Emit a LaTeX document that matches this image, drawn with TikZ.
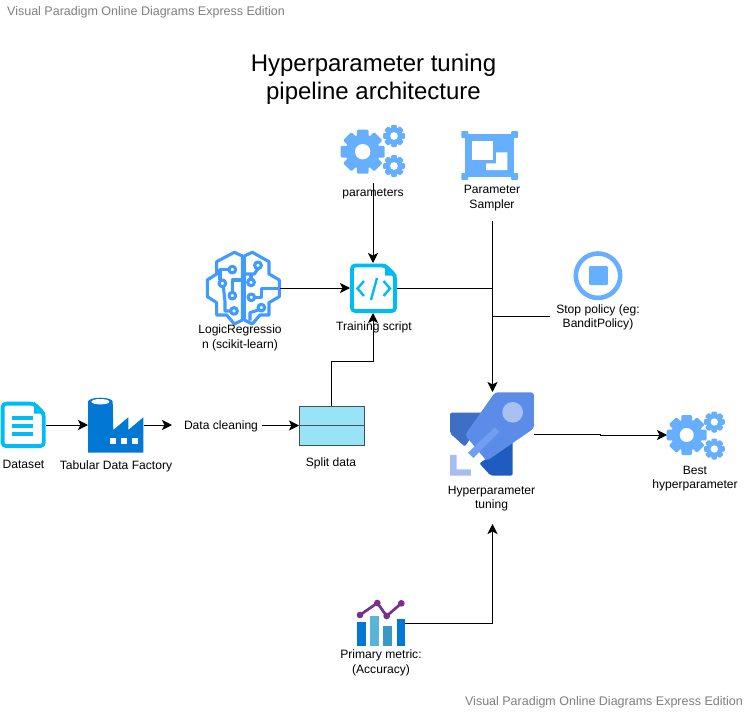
\documentclass[tikz,border=0pt]{standalone}
\usepackage{fontspec}
\setmainfont{Liberation Sans}
\usetikzlibrary{arrows.meta}
\definecolor{iconblue}{HTML}{66AFFF}
\definecolor{cyanicon}{HTML}{00BCF2}
\definecolor{brainblue}{HTML}{3F9BFF}
\definecolor{azure}{HTML}{0078D4}
\definecolor{splitfill}{HTML}{99E3F7}
\definecolor{wmark}{HTML}{7F7F7F}
\tikzset{
  lbl/.style={align=center,inner sep=0pt,font=\fontsize{12.1}{14.5}\selectfont},
  conn/.style={black,line width=0.9pt},
  arr/.style={conn,-{Stealth[length=10pt,width=10pt,inset=2.5pt]}},
  wm/.style={inner sep=0pt,text=wmark,font=\fontsize{12.5}{14}\selectfont},
}
\newcommand{\gearicon}[3]{%
  \begin{scope}[shift={(#1,#2)},scale=#3]
    \fill[iconblue] (0,0) circle (0.78);
    \foreach \a in {0,45,...,315}{
      \fill[iconblue,rotate=\a,rounded corners=1.2pt] (-0.27,0) rectangle (0.27,-1);
    }
    \fill[white] (0,0) circle (0.35);
  \end{scope}}
\begin{document}
\begin{tikzpicture}[x=1pt,y=-1pt]
\useasboundingbox (0,0) rectangle (748,712);
\fill[white] (0,0) rectangle (748,712);

% watermarks and title
\node[wm,anchor=west] (wmtop) at (7,12.5) {Visual Paradigm Online Diagrams Express Edition};
\node[wm,anchor=east] (wmbot) at (743,702.5) {Visual Paradigm Online Diagrams Express Edition};
\node[align=center,inner sep=0pt,font=\fontsize{24}{28}\selectfont] (title) at (373.5,79.5) {Hyperparameter tuning\\pipeline architecture};

% parameters gears
\gearicon{362.7}{151.7}{22}
\gearicon{394}{136}{11}
\gearicon{394}{166}{11}

% parameter sampler
\fill[iconblue] (465,134) rectangle (514,177);
\foreach \hx/\hy in {461.3/131,511/131,461.3/173,511/173}{
  \fill[iconblue,rounded corners=1pt] (\hx,\hy) rectangle ++(7,7);
}
\fill[white] (472,141) rectangle (493,159.5);
\fill[white,rounded corners=0.5pt] (496,152.3) -- (507.3,152.3) -- (507.3,170) -- (486,170) -- (486,163.3) -- (496,163.3) -- cycle;

% stop policy
\draw[iconblue,line width=4.6pt] (598,275.7) circle (22.2);
\fill[iconblue,rounded corners=1pt] (589,266.2) rectangle (607.8,285);

% brain
\begin{scope}[shift={(190,120)},x=0.3333pt,y=-0.3333pt,brainblue,line width=3.1pt,line join=round]
  \draw (157,408) -- (133,397) -- (80,425) -- (80,462) -- (52,480) -- (52,530) -- (80,548) -- (80,585) -- (110,585) -- (133,612) -- (157,600) -- cycle;
  \draw (163,408) -- (187,397) -- (237,425) -- (237,462) -- (268,480) -- (268,530) -- (237,548) -- (237,585) -- (210,585) -- (187,612) -- (163,600) -- cycle;
  \foreach \cx/\cy in {127/449,97/490,127/527,132/573,204/436,183/487,184/532,214/563}{
    \draw (\cx,\cy) circle (10);
  }
  \draw (117,449) -- (90,449) -- (90,480);
  \draw (157,480) -- (127,480) -- (127,517);
  \draw (100,500) -- (105,545) -- (105,573) -- (122,573);
  \draw (163,462) -- (193,462) -- (204,446);
  \draw (183,462) -- (183,477);
  \draw (194,532) -- (215,532) -- (215,505) -- (268,505);
  \draw (205,570) -- (180,578) -- (180,602);
\end{scope}

% training script
\draw[cyanicon,line width=3.8pt,rounded corners=3.5pt] (351.9,265.4) -- (385,265.4) -- (395.1,275.5) -- (395.1,311.1) -- (351.9,311.1) -- cycle;
\fill[cyanicon] (385,263.5) -- (397,275.5) -- (385,275.5) -- cycle;
\draw[cyanicon,line width=2.4pt] (364,281) -- (357.5,288.5) -- (364,296);
\draw[cyanicon,line width=2.4pt] (383.5,281) -- (390,288.5) -- (383.5,296);
\draw[cyanicon,line width=2.4pt] (377,278) -- (371,300);

% dataset
\draw[cyanicon,line width=3.8pt,rounded corners=3.5pt] (2.6,403.6) -- (34,403.6) -- (43.8,413.5) -- (43.8,446.1) -- (2.6,446.1) -- cycle;
\fill[cyanicon] (34,401.7) -- (45.7,413.5) -- (34,413.5) -- cycle;
\foreach \ly in {418,425.7,433.7}{
  \fill[cyanicon] (12,\ly-1.8) rectangle (33,\ly+1.8);
}

% factory
\fill[azure] (88,401.7) -- (88,452.7) -- (143.3,452.7) -- (143.3,417.3) -- (128.3,430) -- (128.3,417.3) -- (113.3,430) -- (112.7,401.7) arc (0:-180:12.35 and 4) -- cycle;
\fill[white] (100.4,401.7) ellipse (9 and 2.7);
\foreach \wx in {110,121,132}{
  \fill[white] (\wx,437.7) rectangle ++(6,6);
}

% split data
\node[draw=black!75!cyan,fill=splitfill,line width=0.8pt,minimum width=65pt,minimum height=39pt,inner sep=0pt,outer sep=0pt] (split) at (331.5,425.5) {};
\draw[black!75!cyan,line width=0.8pt] (split.west) -- (split.east);

% rocket
\begin{scope}[shift={(440,380)},x=0.3333pt,y=-0.3333pt]
  \fill[fill={rgb,255:red,63;green,111;blue,196},rounded corners=2pt] (30,98) -- (140,98) -- (75,200) -- (30,160) -- cycle;
  \fill[fill={rgb,255:red,31;green,92;blue,192},rounded corners=2pt] (118,250) -- (218,185) -- (218,287) -- (152,287) -- cycle;
  \fill[white] (68,205) -- (125,240) -- (100,252) -- (65,225) -- cycle;
  \fill[fill={rgb,255:red,91;green,141;blue,232},rounded corners=3pt] (75,165) -- (165,37) -- (282,37) -- (282,145) -- (140,243) -- cycle;
  \fill[fill={rgb,255:red,169;green,193;blue,240}] (218,97) circle (31);
  \fill[fill={rgb,255:red,112;green,158;blue,240}] (84,218) -- (165,142) -- (178,155) -- (100,234) -- cycle;
  \fill[fill={rgb,255:red,165;green,189;blue,243}] (30,225) -- (50,225) -- (50,268) -- (93,268) -- (93,287) -- (30,287) -- cycle;
\end{scope}

% best hyperparameter gears
\gearicon{686.7}{435}{20}
\gearicon{714.3}{422}{10.5}
\gearicon{714.3}{449}{10.5}

% metric chart
\begin{scope}[shift={(340,590)},x=0.3333pt,y=-0.3333pt]
  \fill[azure] (51,96) rectangle (77,167);
  \fill[fill={rgb,255:red,89;green,180;blue,217}] (90,77) rectangle (116,167);
  \fill[fill={rgb,255:red,57;green,153;blue,198}] (130,108) rectangle (156,167);
  \fill[azure] (170,86) rectangle (195,167);
  \draw[draw={rgb,255:red,122;green,47;blue,143},line width=2.7pt] (60,75) -- (112,39) -- (140,78) -- (184,40);
  \foreach \px/\py in {60/75,112/39,140/78,184/40}{
    \fill[fill={rgb,255:red,122;green,47;blue,143}] (\px,\py) circle (10);
  }
\end{scope}

% anchors for connectors
\coordinate (paramsOut) at (373,183);
\coordinate (samplerOut) at (492.5,221);
\coordinate (brainE) at (280,288);
\coordinate (scriptW) at (350,288);
\coordinate (scriptE) at (397,288);
\coordinate (scriptN) at (373,263);
\coordinate (scriptS) at (373,313);
\coordinate (jA) at (492.5,288);
\coordinate (jB) at (492.5,316);
\coordinate (stopOut) at (550,316);
\coordinate (rocketN) at (492.5,392);
\coordinate (rocketE) at (534,434);
\coordinate (rocketS) at (492.5,524);
\coordinate (bestW) at (667,435);
\coordinate (datasetE) at (46,425);
\coordinate (factoryW) at (88,425);
\coordinate (factoryE) at (143.5,425);
\coordinate (cleanW) at (172,425);
\coordinate (cleanE) at (262,425.5);
\coordinate (chartE) at (405,623);
\coordinate (splitN) at (331,406);

% connectors
\draw[arr] (paramsOut) -- (scriptN);
\draw[arr] (brainE) -- (scriptW);
\draw[conn] (scriptE) -- (jA);
\draw[arr] (samplerOut) -- (rocketN);
\draw[conn] (stopOut) -- (jB);
\draw[arr] (datasetE) -- (factoryW);
\draw[arr] (factoryE) -- (cleanW);
\draw[arr] (cleanE) -- (split.west);
\draw[arr] (splitN) -- (331,361) -- (373,361) -- (scriptS);
\draw[arr] (rocketE) -- (600,434) -- (600,435) -- (bestW);
\draw[arr] (chartE) -- (492.5,623) -- (rocketS);

% labels
\node[lbl] (lparams) at (373,193.5) {parameters};
\node[lbl] (lsampler) at (492,198) {Parameter\\Sampler};
\node[lbl] (lbrain) at (240,338) {LogicRegressio\\n (scikit-learn)};
\node[lbl] (lscript) at (374,327.5) {Training script};
\node[lbl] (lstop) at (598,317.5) {Stop policy (eg:\\BanditPolicy)};
\node[lbl] (ldataset) at (23.5,464) {Dataset};
\node[lbl] (lfactory) at (116,466.5) {Tabular Data Factory};
\node[lbl] (lclean) at (221,426) {Data cleaning};
\node[lbl] (lsplit) at (331,463.5) {Split data};
\node[lbl] (lhyper) at (491.5,498.5) {Hyperparameter\\tuning};
\node[lbl] (lbest) at (695,478.5) {Best\\hyperparameter};
\node[lbl] (lmetric) at (381,663) {Primary metric:\\(Accuracy)};
\end{tikzpicture}
\end{document}
